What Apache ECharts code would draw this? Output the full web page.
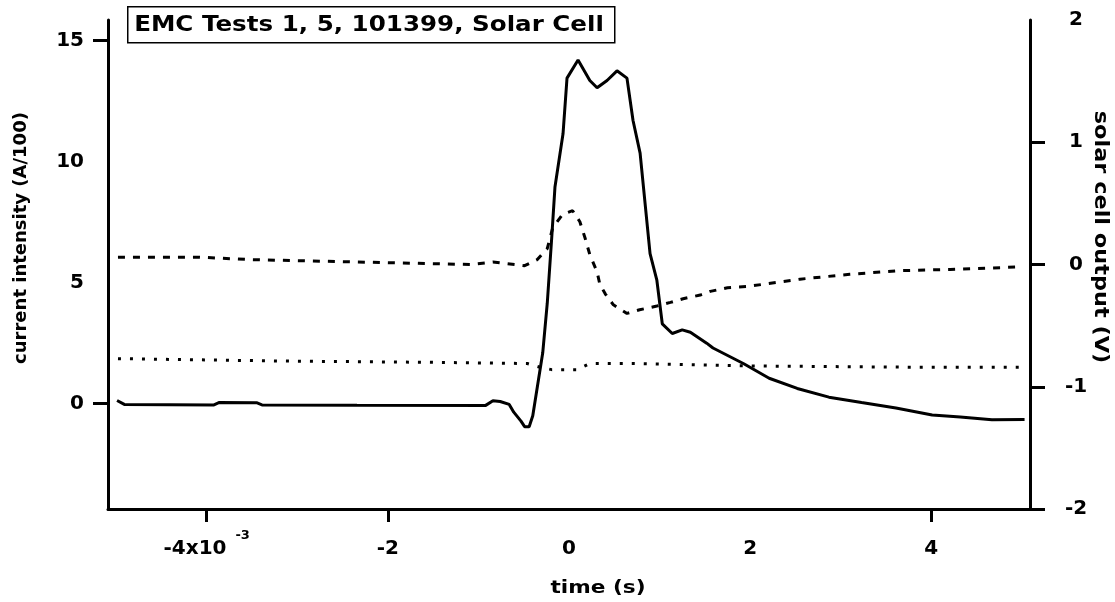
<!DOCTYPE html>
<html>
<head>
<meta charset="utf-8">
<script src="https://cdn.jsdelivr.net/npm/echarts@6/dist/echarts.min.js"></script>
<style>
html,body{margin:0;padding:0;background:#fff;}
#chart{width:1115px;height:602px;}
</style>
</head>
<body>
<div id="chart"></div>
<script>
// ---- data (time in units of 1e-3 s) ----
const currentTime = [-4.99, -4.91, -3.92, -3.86, -3.45, -3.39, -2.34, -0.92, -0.84, -0.76, -0.66, -0.61, -0.53, -0.49, -0.44, -0.40, -0.29, -0.24, -0.19, -0.155, -0.066, -0.022, 0.10, 0.23, 0.31, 0.42, 0.53, 0.64, 0.707, 0.785, 0.895, 0.97, 1.03, 1.14, 1.25, 1.34, 1.52, 1.59, 1.93, 2.21, 2.52, 2.87, 3.23, 3.61, 4.01, 4.32, 4.67, 5.03];
const currentValue = [0.13, -0.03, -0.05, 0.05, 0.04, -0.05, -0.06, -0.07, 0.12, 0.09, -0.03, -0.35, -0.72, -0.95, -0.95, -0.5, 2.1, 4.15, 6.9, 8.95, 11.15, 13.45, 14.2, 13.35, 13.05, 13.35, 13.75, 13.45, 11.7, 10.35, 6.2, 5.1, 3.3, 2.9, 3.05, 2.95, 2.5, 2.3, 1.65, 1.05, 0.63, 0.27, 0.05, -0.18, -0.47, -0.55, -0.66, -0.65];

const solarATime = [-4.98, -4.08, -3.52, -1.08, -0.84, -0.49, -0.35, -0.24, -0.18, -0.13, -0.07, 0.04, 0.12, 0.18, 0.23, 0.31, 0.34, 0.40, 0.49, 0.64, 0.78, 0.97, 1.12, 1.26, 1.45, 1.56, 1.75, 1.97, 2.55, 3.10, 3.66, 4.21, 4.98];
const solarAValue = [0.06, 0.06, 0.04, 0.0, 0.02, -0.01, 0.04, 0.13, 0.30, 0.35, 0.41, 0.44, 0.35, 0.21, 0.08, -0.06, -0.16, -0.24, -0.33, -0.40, -0.37, -0.34, -0.31, -0.28, -0.25, -0.22, -0.19, -0.18, -0.12, -0.08, -0.05, -0.04, -0.02];

const solarBTime = [-4.98, -3.13, -1.55, -0.46, -0.32, -0.19, 0.09, 0.23, 0.71, 1.97, 3.81, 4.98];
const solarBValue = [-0.77, -0.79, -0.80, -0.81, -0.84, -0.86, -0.86, -0.81, -0.81, -0.83, -0.84, -0.84];

const xLabelValues = [-4, -2, 0, 2, 4];
const xTickLabels = ['-4x10^-3', '-2', '0', '2', '4'];
const xTickMarks = [-4, -2, 4];
const leftLabelValues = [0, 5, 10, 15];
const leftTickMarks = [0, 15];
const rightTickMarks = [-2, -1, 0, 1];

const titleText = 'EMC Tests 1, 5, 101399, Solar Cell';
const xTitle = 'time (s)';
const leftTitle = 'current intensity (A/100)';
const rightTitle = 'solar cell output (V)';

function zip(a, b) { return a.map((t, i) => [t, b[i]]); }

const FONT = 'DejaVu Sans';
const labelStyle = { fontFamily: FONT, fontWeight: 'bold', fontSize: 20, color: '#000' };

const chart = echarts.init(document.getElementById('chart'), null, { renderer: 'canvas' });
chart.setOption({
  animation: false,
  backgroundColor: '#fff',
  grid: { left: 108, right: 85, top: 20, bottom: 93 },
  xAxis: {
    type: 'value', min: -5.09, max: 5.09,
    axisLine: { show: true, onZero: false, lineStyle: { color: '#000', width: 3 } },
    axisTick: { show: true, length: 13, lineStyle: { color: '#000', width: 3 }, customValues: xTickMarks },
    splitLine: { show: false },
    axisLabel: {
      margin: 20,
      customValues: xLabelValues,
      formatter: function (v) {
        const idx = xLabelValues.findIndex(x => Math.abs(x - v) < 1e-9);
        const s = idx >= 0 ? xTickLabels[idx] : String(v);
        const parts = s.split('^');
        if (parts.length > 1) return '{b|' + parts[0] + '}{s|' + parts[1] + '}';
        return '{b|' + s + '}';
      },
      rich: {
        b: Object.assign({}, labelStyle, { lineHeight: 40 }),
        s: { fontFamily: FONT, fontWeight: 'bold', fontSize: 13, color: '#000', verticalAlign: 'top', lineHeight: 16, padding: [0, 0, 0, 9] }
      }
    }
  },
  yAxis: [
    {
      type: 'value', position: 'left', min: -4.35, max: 15.85,
      axisLine: { show: true, onZero: false, lineStyle: { color: '#000', width: 3 } },
      axisTick: { show: true, length: 15, lineStyle: { color: '#000', width: 3 }, customValues: leftTickMarks },
      splitLine: { show: false },
      axisLabel: Object.assign({ margin: 24, customValues: leftLabelValues }, labelStyle)
    },
    {
      type: 'value', position: 'right', min: -2, max: 2, interval: 1,
      axisLine: { show: true, onZero: false, lineStyle: { color: '#000', width: 3 } },
      axisTick: { show: true, length: 15, lineStyle: { color: '#000', width: 3 }, customValues: rightTickMarks },
      splitLine: { show: false },
      axisLabel: Object.assign({ margin: 46, align: 'center' }, labelStyle)
    }
  ],
  series: [
    {
      name: 'current', type: 'line', yAxisIndex: 0, data: zip(currentTime, currentValue),
      showSymbol: false, symbol: 'none', lineStyle: { color: '#000', width: 3 }, z: 3
    },
    {
      name: 'solar A', type: 'line', yAxisIndex: 1, data: zip(solarATime, solarAValue),
      showSymbol: false, symbol: 'none', lineStyle: { color: '#000', width: 3, type: [7, 8] }, z: 2
    },
    {
      name: 'solar B', type: 'line', yAxisIndex: 1, data: zip(solarBTime, solarBValue),
      showSymbol: false, symbol: 'none', lineStyle: { color: '#000', width: 3, type: [3, 9] }, z: 2
    }
  ],
  graphic: [
    {
      type: 'rect', left: 127, top: 6, shape: { width: 487, height: 36 },
      style: { fill: '#fff', stroke: '#000', lineWidth: 1.5 }, z: 10
    },
    {
      type: 'text', x: 369, y: 26, scaleX: 1.17, z: 11,
      style: { text: titleText, font: 'bold 21px "DejaVu Sans"', fill: '#000', textAlign: 'center', textVerticalAlign: 'middle' }
    },
    {
      type: 'text', x: 598, y: 588, scaleX: 1.2, z: 11,
      style: { text: xTitle, font: 'bold 18px "DejaVu Sans"', fill: '#000', textAlign: 'center', textVerticalAlign: 'middle' }
    },
    {
      type: 'text', x: 21, y: 238, rotation: Math.PI / 2, z: 11,
      style: { text: leftTitle, font: 'bold 18px "DejaVu Sans"', fill: '#000', textAlign: 'center', textVerticalAlign: 'middle' }
    },
    {
      type: 'text', x: 1100, y: 237, rotation: -Math.PI / 2, scaleX: 1.18, z: 11,
      style: { text: rightTitle, font: 'bold 19px "DejaVu Sans"', fill: '#000', textAlign: 'center', textVerticalAlign: 'middle' }
    }
  ]
});
</script>
</body>
</html>
